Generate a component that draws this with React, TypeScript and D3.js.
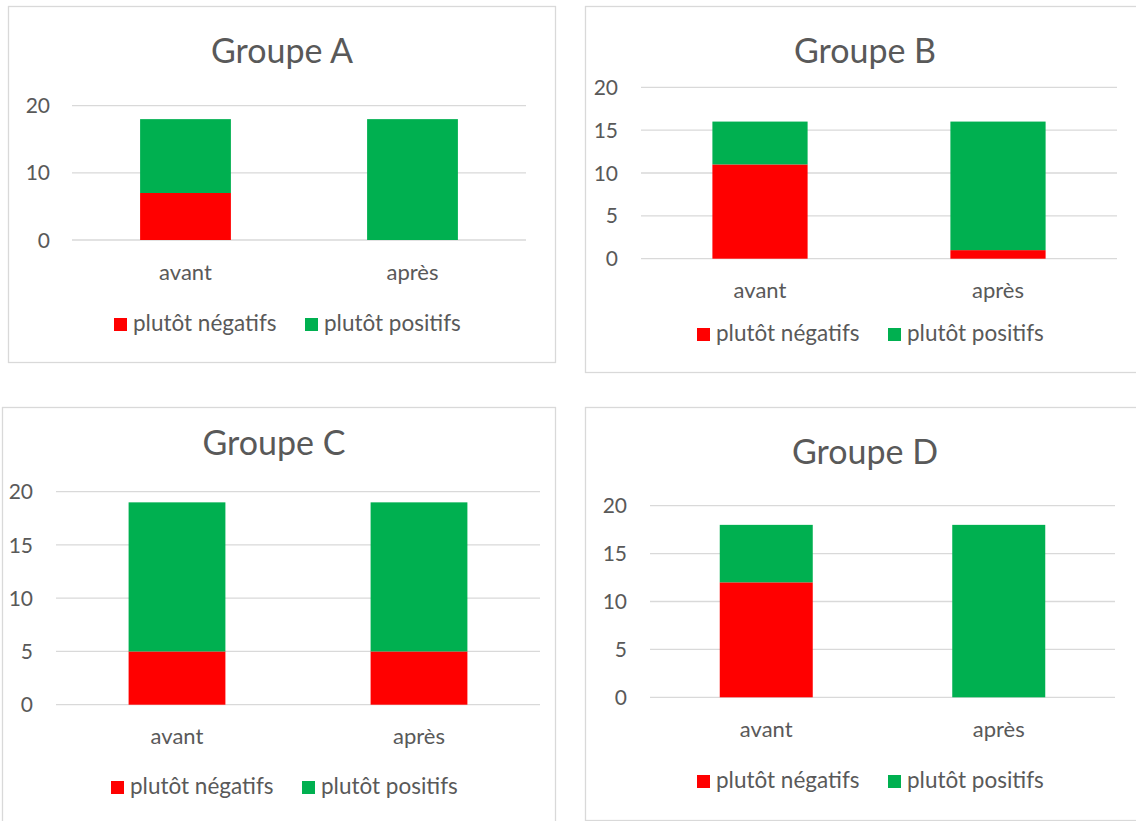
import React from "react";
import * as d3 from "d3";

const categories = ["avant", "après"];
const seriesNames = ["plutôt négatifs", "plutôt positifs"];
const groupTitles = ["Groupe A", "Groupe B", "Groupe C", "Groupe D"];
const negatifsA = [7, 0];
const positifsA = [11, 18];
const negatifsB = [11, 1];
const positifsB = [5, 15];
const negatifsC = [5, 5];
const positifsC = [14, 14];
const negatifsD = [12, 0];
const positifsD = [6, 18];
const ticksA = [0, 10, 20];
const ticksBCD = [0, 5, 10, 15, 20];

const RED = "#FF0000";
const GREEN = "#00B050";
const TEXT = "#595959";
const GRID = "#D9D9D9";
const FONT = "Lato, 'Open Sans', sans-serif";

const layouts = [
  { box: [8.5, 6.5, 547, 356], plot: [72, 526, 105.7, 240], title: [282, 63], tickX: 50, legend: [114, 331] },
  { box: [585.5, 6.5, 560, 366], plot: [641, 1117, 87.3, 258.7], title: [865, 63], tickX: 618, legend: [697, 341] },
  { box: [2.5, 407.5, 553, 430], plot: [56, 540, 491.7, 704.7], title: [274, 455], tickX: 33, legend: [111, 794] },
  { box: [585.5, 407.5, 560, 413], plot: [650, 1115, 505.7, 697.3], title: [865, 464], tickX: 627, legend: [697, 788] },
];

const panelData = [
  { neg: negatifsA, pos: positifsA, ticks: ticksA },
  { neg: negatifsB, pos: positifsB, ticks: ticksBCD },
  { neg: negatifsC, pos: positifsC, ticks: ticksBCD },
  { neg: negatifsD, pos: positifsD, ticks: ticksBCD },
];

function Panel({ idx }: { idx: number }) {
  const L = layouts[idx];
  const D = panelData[idx];
  const [x0, x1, yTop, yZero] = L.plot;
  const x = d3.scaleBand<string>().domain(categories).range([x0, x1]).paddingInner(0.6).paddingOuter(0.3);
  const y = d3.scaleLinear().domain([0, 20]).range([yZero, yTop]);
  const rows = categories.map((c, i) => ({ cat: c, neg: D.neg[i], pos: D.pos[i] }));
  const stack = d3.stack<any>().keys(["neg", "pos"])(rows);
  const colors = [RED, GREEN];
  return (
    <g>
      <rect x={L.box[0]} y={L.box[1]} width={L.box[2]} height={L.box[3]} fill="#fff" stroke={GRID} strokeWidth={1.3} />
      <text x={L.title[0]} y={L.title[1]} textAnchor="middle" fontSize={34} fill={TEXT} fontFamily={FONT}>
        {groupTitles[idx]}
      </text>
      {D.ticks.map((t) => (
        <g key={t}>
          <line x1={x0} x2={x1} y1={y(t)} y2={y(t)} stroke={GRID} strokeWidth={1.3} />
          <text x={L.tickX} y={y(t)} dy="0.36em" textAnchor="end" fontSize={21} fill={TEXT} fontFamily={FONT}>
            {t}
          </text>
        </g>
      ))}
      {stack.map((s, si) =>
        s.map((d, i) =>
          d[1] - d[0] > 0 ? (
            <rect
              key={si + "-" + i}
              x={x(categories[i])}
              width={x.bandwidth()}
              y={y(d[1])}
              height={y(d[0]) - y(d[1])}
              fill={colors[si]}
            />
          ) : null
        )
      )}
      {categories.map((c) => (
        <text key={c} x={(x(c) as number) + x.bandwidth() / 2} y={yZero + 39.5} textAnchor="middle" fontSize={22} fill={TEXT} fontFamily={FONT}>
          {c}
        </text>
      ))}
      {seriesNames.map((n, i) => {
        const lx = L.legend[0] + i * 191;
        const ly = L.legend[1];
        return (
          <g key={n}>
            <rect x={lx} y={ly - 13} width={13} height={13} fill={colors[i]} />
            <text x={lx + 19} y={ly} fontSize={22.5} fill={TEXT} fontFamily={FONT}>
              {n}
            </text>
          </g>
        );
      })}
    </g>
  );
}

export default function App() {
  return (
    <div style={{ position: "absolute", left: 0, top: 0 }}>
      <svg width={1136} height={821} style={{ display: "block", background: "#fff" }}>
        {groupTitles.map((_, i) => (
          <Panel key={i} idx={i} />
        ))}
      </svg>
    </div>
  );
}
